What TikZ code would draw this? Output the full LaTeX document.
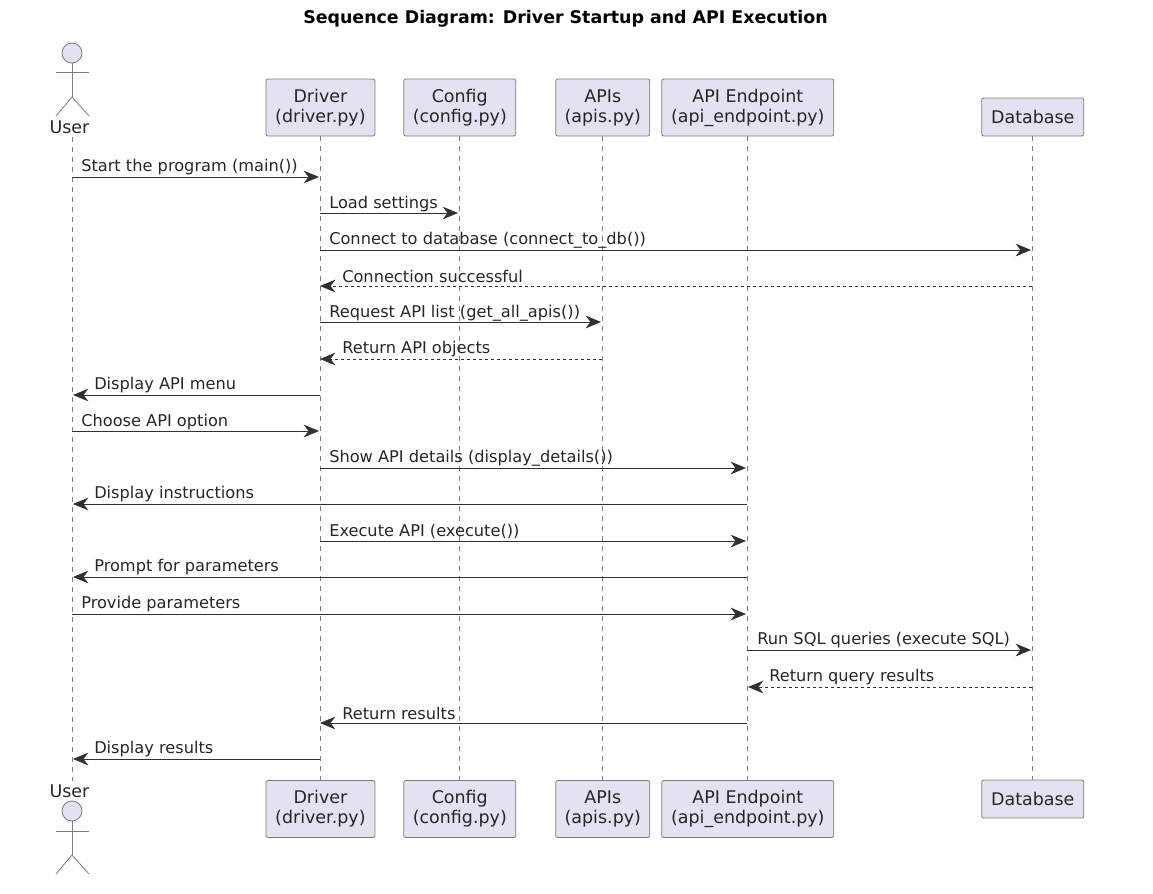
\documentclass[tikz,border=0pt]{standalone}
\usepackage{fontspec}
\setmainfont{DejaVu Sans}
\usetikzlibrary{arrows.meta}
\pgfdeclarelayer{nodelayer}
\pgfdeclarelayer{edgelayer}
\pgfsetlayers{edgelayer,nodelayer,main}
\definecolor{boxfill}{HTML}{E2E2F0}
\definecolor{boxline}{HTML}{7C7C7C}
\definecolor{msgline}{HTML}{303030}
\tikzset{
  part/.style={draw=boxline, fill=boxfill, rounded corners=1.5pt, line width=0.6pt, align=center, inner sep=0pt, minimum height=42.75pt, font=\fontsize{13.1}{15}\selectfont, text=black!85},
  head/.style={circle, draw=boxline, fill=boxfill, line width=0.6pt, inner sep=0pt, minimum size=15pt},
  limb/.style={draw=boxline, line width=0.6pt},
  actorname/.style={inner sep=0pt, font=\fontsize{13.1}{15}\selectfont, text=black!85},
  life/.style={draw=boxline, line width=0.5pt, dash pattern=on 3.75pt off 3.75pt},
  call/.style={draw=msgline, line width=0.75pt, -{Stealth[length=11.5pt, width=9.5pt, inset=3.6pt]}},
  reply/.style={call, dash pattern=on 2.25pt off 2.25pt},
  lbl/.style={anchor=west, inner sep=0pt, font=\fontsize{12.15}{14}\selectfont, text=black!85}
}

\begin{document}
\begin{tikzpicture}[x=0.75pt, y=-0.75pt]
  \useasboundingbox (0, 0) rectangle (1153, 893);
  \begin{pgfonlayer}{nodelayer}
    \node [inner sep=0pt, font=\bfseries\fontsize{13.05}{15}\selectfont] (title) at (565.5, 19) {Sequence Diagram: Driver Startup and API Execution};
    % top row
    \node [head] (userHeadTop) at (72, 53) {};
    \node [actorname] (userTop) at (69.5, 127) {User};
    \node [part, minimum width=81.75pt] (driverTop) at (320.4, 107.5) {Driver\\(driver.py)};
    \node [part, minimum width=84pt] (configTop) at (459.8, 107.5) {Config\\(config.py)};
    \node [part, minimum width=70.5pt] (apisTop) at (602.8, 107.5) {APIs\\(apis.py)};
    \node [part, minimum width=129pt] (endpointTop) at (747.8, 107.5) {API Endpoint\\(api\_endpoint.py)};
    \node [part, minimum width=76.5pt, minimum height=28.5pt] (dbTop) at (1032.8, 117) {Database};
    % bottom row
    \node [head] (userHeadBottom) at (72, 811) {};
    \node [actorname] (userBottom) at (69.5, 791) {User};
    \node [part, minimum width=81.75pt] (driverBottom) at (320.4, 809) {Driver\\(driver.py)};
    \node [part, minimum width=84pt] (configBottom) at (459.8, 809) {Config\\(config.py)};
    \node [part, minimum width=70.5pt] (apisBottom) at (602.8, 809) {APIs\\(apis.py)};
    \node [part, minimum width=129pt] (endpointBottom) at (747.8, 809) {API Endpoint\\(api\_endpoint.py)};
    \node [part, minimum width=76.5pt, minimum height=28.5pt] (dbBottom) at (1032.8, 799) {Database};
    % message labels
    \node [lbl] (l1) at (81, 167) {Start the program (main())};
    \node [lbl] (l2) at (329, 204) {Load settings};
    \node [lbl] (l3) at (329, 240) {Connect to database (connect\_to\_db())};
    \node [lbl] (l4) at (342, 276) {Connection successful};
    \node [lbl] (l5) at (329, 313) {Request API list (get\_all\_apis())};
    \node [lbl] (l6) at (342, 349) {Return API objects};
    \node [lbl] (l7) at (94, 385) {Display API menu};
    \node [lbl] (l8) at (81, 422) {Choose API option};
    \node [lbl] (l9) at (329, 458) {Show API details (display\_details())};
    \node [lbl] (l10) at (94, 494) {Display instructions};
    \node [lbl] (l11) at (329, 531) {Execute API (execute())};
    \node [lbl] (l12) at (94, 567) {Prompt for parameters};
    \node [lbl] (l13) at (81, 604) {Provide parameters};
    \node [lbl] (l14) at (757, 640) {Run SQL queries (execute SQL)};
    \node [lbl] (l15) at (769, 677) {Return query results};
    \node [lbl] (l16) at (342, 713) {Return results};
    \node [lbl] (l17) at (94, 749) {Display results};
    % message ends
    \coordinate (a1) at (72, 177);    \coordinate (b1) at (319, 177);
    \coordinate (a2) at (320, 213);   \coordinate (b2) at (458, 213);
    \coordinate (a3) at (320, 250);   \coordinate (b3) at (1031, 250);
    \coordinate (a4) at (1032, 286);  \coordinate (b4) at (320, 286);
    \coordinate (a5) at (320, 322);   \coordinate (b5) at (601, 322);
    \coordinate (a6) at (602, 359);   \coordinate (b6) at (320, 359);
    \coordinate (a7) at (320, 395);   \coordinate (b7) at (73, 395);
    \coordinate (a8) at (72, 431);    \coordinate (b8) at (319, 431);
    \coordinate (a9) at (320, 468);   \coordinate (b9) at (746, 468);
    \coordinate (a10) at (747, 504);  \coordinate (b10) at (73, 504);
    \coordinate (a11) at (320, 541);  \coordinate (b11) at (746, 541);
    \coordinate (a12) at (747, 577);  \coordinate (b12) at (73, 577);
    \coordinate (a13) at (72, 614);   \coordinate (b13) at (746, 614);
    \coordinate (a14) at (747, 650);  \coordinate (b14) at (1031, 650);
    \coordinate (a15) at (1032, 687); \coordinate (b15) at (748, 687);
    \coordinate (a16) at (747, 723);  \coordinate (b16) at (320, 723);
    \coordinate (a17) at (320, 759);  \coordinate (b17) at (73, 759);
    % actor joints
    \coordinate (armLTop) at (56, 72.5);    \coordinate (armRTop) at (89, 72.5);
    \coordinate (hipTop) at (72, 97);
    \coordinate (footLTop) at (56, 116);    \coordinate (footRTop) at (89, 116);
    \coordinate (armLBottom) at (56, 831);  \coordinate (armRBottom) at (89, 831);
    \coordinate (hipBottom) at (72, 855);
    \coordinate (footLBottom) at (56, 874); \coordinate (footRBottom) at (89, 874);
    \coordinate (lifeTop) at (72, 137);     \coordinate (lifeBottom) at (72, 781);
  \end{pgfonlayer}
  \begin{pgfonlayer}{edgelayer}
    \draw [life] (lifeTop) to (lifeBottom);
    \draw [life] (driverTop.south) to (driverBottom.north);
    \draw [life] (configTop.south) to (configBottom.north);
    \draw [life] (apisTop.south) to (apisBottom.north);
    \draw [life] (endpointTop.south) to (endpointBottom.north);
    \draw [life] (dbTop.south) to (dbBottom.north);
  \end{pgfonlayer}
  \draw [limb] (userHeadTop.south) to (hipTop);
  \draw [limb] (armLTop) to (armRTop);
  \draw [limb] (footLTop) to (hipTop) to (footRTop);
  \draw [limb] (userHeadBottom.south) to (hipBottom);
  \draw [limb] (armLBottom) to (armRBottom);
  \draw [limb] (footLBottom) to (hipBottom) to (footRBottom);
  \draw [call] (a1) to (b1);
  \draw [call] (a2) to (b2);
  \draw [call] (a3) to (b3);
  \draw [reply] (a4) to (b4);
  \draw [call] (a5) to (b5);
  \draw [reply] (a6) to (b6);
  \draw [call] (a7) to (b7);
  \draw [call] (a8) to (b8);
  \draw [call] (a9) to (b9);
  \draw [call] (a10) to (b10);
  \draw [call] (a11) to (b11);
  \draw [call] (a12) to (b12);
  \draw [call] (a13) to (b13);
  \draw [call] (a14) to (b14);
  \draw [reply] (a15) to (b15);
  \draw [call] (a16) to (b16);
  \draw [call] (a17) to (b17);
\end{tikzpicture}
\end{document}
